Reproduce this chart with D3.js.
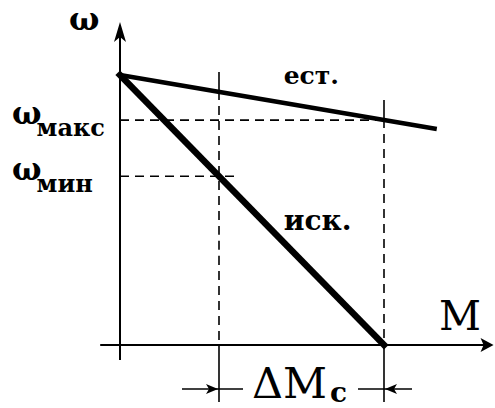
<!DOCTYPE html>
<html>
<head>
<meta charset="utf-8">
<script src="https://cdn.jsdelivr.net/npm/d3@7/dist/d3.min.js"></script>
<style>
  html, body { margin: 0; padding: 0; background: #fff; }
  svg { display: block; }
</style>
</head>
<body>
<svg id="chart" width="495" height="408"></svg>
<script>
// Speed–torque characteristics: natural (ест.) and artificial (иск.)
const naturalCurve = [[0, 100], [120, 80]];      // [M, ω]
const artificialCurve = [[0, 100], [100, 0]];    // [M, ω]
const loadTorques = [37.5, 100];                 // boundaries of ΔM_c
const speedLevels = [
  { sub: "макс", value: 83.3, dashTo: 100 },
  { sub: "мин", value: 62.5, dashTo: 45 }
];
const curveLabels = [
  { text: "ест.", M: 62, w: 96.5, size: 25 },
  { text: "иск.", M: 62, w: 42.5, size: 28 }
];

const FONT = "'DejaVu Serif', serif";
const svg = d3.select("#chart").attr("font-family", FONT);
const x = d3.scaleLinear().domain([0, 100]).range([120, 384]);
const y = d3.scaleLinear().domain([0, 100]).range([345, 75]);
const line = d3.line().x(d => x(d[0])).y(d => y(d[1]));

// Axes
svg.append("line").attr("x1", x(-7.5)).attr("x2", x(139)).attr("y1", y(0)).attr("y2", y(0))
  .attr("stroke", "#000").attr("stroke-width", 2);
svg.append("line").attr("x1", x(0)).attr("x2", x(0)).attr("y1", y(-5.6)).attr("y2", y(117))
  .attr("stroke", "#000").attr("stroke-width", 2);

// Arrowheads
const xTip = [x(141.5), y(0)];
svg.append("path")
  .attr("d", `M${xTip[0]},${xTip[1]} L${xTip[0] - 13},${xTip[1] - 7} L${xTip[0] - 10},${xTip[1]} L${xTip[0] - 13},${xTip[1] + 7} Z`)
  .attr("fill", "#000");
const yTip = [x(0), y(119.6)];
svg.append("path")
  .attr("d", `M${yTip[0]},${yTip[1]} L${yTip[0] + 6},${yTip[1] + 20} L${yTip[0]},${yTip[1] + 15} L${yTip[0] - 6},${yTip[1] + 20} Z`)
  .attr("fill", "#000");

// Horizontal dashed guides for ω levels
svg.selectAll(".hguide").data(speedLevels).join("line")
  .attr("x1", x(0)).attr("x2", d => x(d.dashTo))
  .attr("y1", d => y(d.value)).attr("y2", d => y(d.value))
  .attr("stroke", "#000").attr("stroke-width", 1.6).attr("stroke-dasharray", "9,6");

// Vertical guides at load torques: solid tick through the natural curve, dashed to the axis
const natAt = m => naturalCurve[0][1] + (naturalCurve[1][1] - naturalCurve[0][1]) * m / naturalCurve[1][0];
loadTorques.forEach(m => {
  const yn = y(natAt(m));
  svg.append("line").attr("x1", x(m)).attr("x2", x(m)).attr("y1", yn - 20).attr("y2", yn + 8)
    .attr("stroke", "#000").attr("stroke-width", 1.6);
  svg.append("line").attr("x1", x(m)).attr("x2", x(m)).attr("y1", yn + 14).attr("y2", y(0))
    .attr("stroke", "#000").attr("stroke-width", 1.6).attr("stroke-dasharray", "9,6");
  svg.append("line").attr("x1", x(m)).attr("x2", x(m)).attr("y1", y(0)).attr("y2", y(0) + 57)
    .attr("stroke", "#000").attr("stroke-width", 1.6);
});

// Curves
svg.append("path").datum(naturalCurve).attr("d", line)
  .attr("fill", "none").attr("stroke", "#000").attr("stroke-width", 4.5);
svg.append("path").datum(artificialCurve).attr("d", line)
  .attr("fill", "none").attr("stroke", "#000").attr("stroke-width", 6.5).attr("stroke-linecap", "square");

// ΔM_c dimension arrows
const dimY = y(0) + 44;
const x1 = x(loadTorques[0]), x2 = x(loadTorques[1]);
svg.append("line").attr("x1", x1 - 37).attr("x2", x1 + 24).attr("y1", dimY).attr("y2", dimY)
  .attr("stroke", "#000").attr("stroke-width", 1.6);
svg.append("line").attr("x1", x2 - 26).attr("x2", x2 + 28).attr("y1", dimY).attr("y2", dimY)
  .attr("stroke", "#000").attr("stroke-width", 1.6);
svg.append("path")
  .attr("d", `M${x1 - 1},${dimY} L${x1 - 13},${dimY - 5} L${x1 - 10},${dimY} L${x1 - 13},${dimY + 5} Z`)
  .attr("fill", "#000");
svg.append("path")
  .attr("d", `M${x2 + 1},${dimY} L${x2 + 13},${dimY - 5} L${x2 + 10},${dimY} L${x2 + 13},${dimY + 5} Z`)
  .attr("fill", "#000");

// Labels
svg.append("text").attr("x", 69).attr("y", 30).attr("font-size", 32).attr("font-weight", "bold").text("ω");
svg.append("text").attr("x", 439).attr("y", 330).attr("font-size", 41).text("M");

const dm = svg.append("text").attr("x", 252).attr("y", 398).attr("font-size", 43);
dm.append("tspan").text("ΔM");
dm.append("tspan").attr("font-size", 28).attr("font-weight", "bold").attr("dy", 4).attr("dx", 3).text("c");

speedLevels.forEach(d => {
  const t = svg.append("text").attr("x", 12).attr("y", y(d.value) + 4).attr("font-weight", "bold");
  t.append("tspan").attr("font-size", 31).text("ω");
  t.append("tspan").attr("font-size", 24).attr("dy", 12).attr("dx", -5).text(d.sub);
});

svg.selectAll(".clabel").data(curveLabels).join("text")
  .attr("x", d => x(d.M)).attr("y", d => y(d.w))
  .attr("font-size", d => d.size).attr("font-weight", "bold")
  .text(d => d.text);
</script>
</body>
</html>
